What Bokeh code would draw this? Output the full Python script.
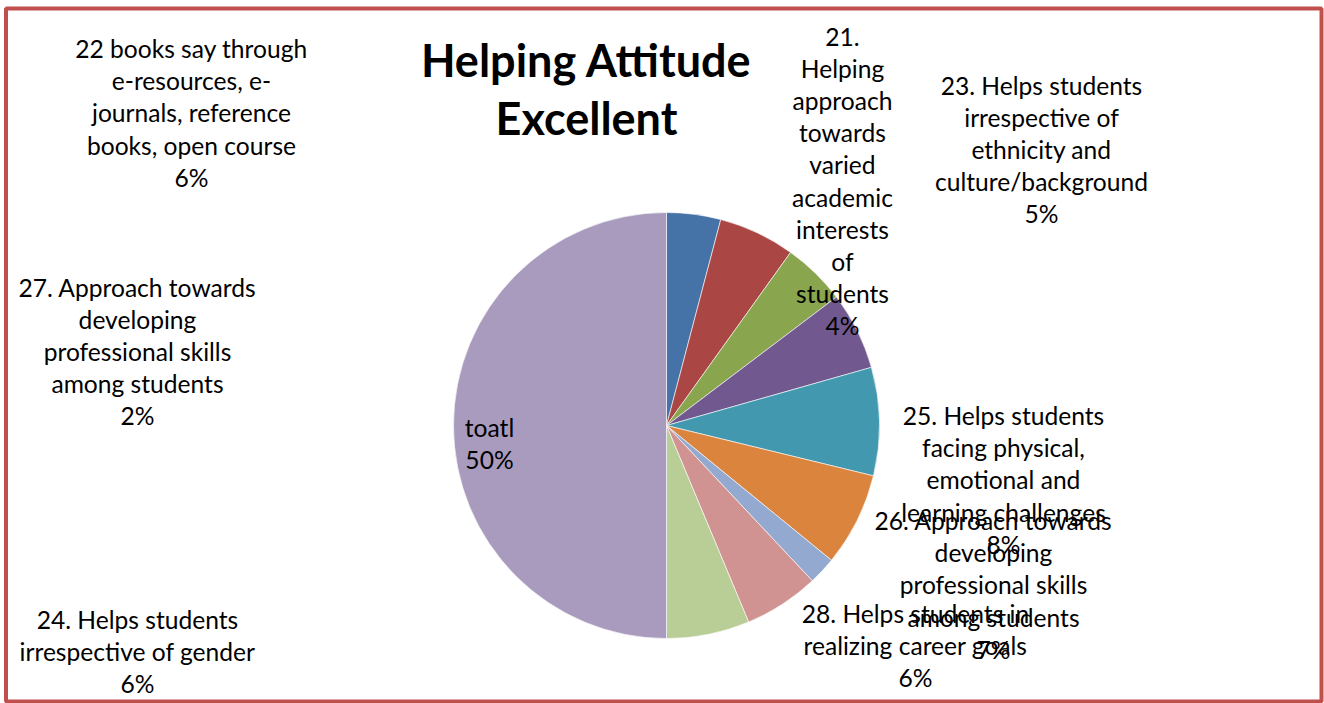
import math
from bokeh.plotting import figure
from bokeh.models import Range1d, ColumnDataSource
from bokeh.core.properties import value
from bokeh.embed import file_html
from bokeh.resources import INLINE

# ---- data (clockwise from 12 o'clock) ----
categories = [
    "21.\nHelping\napproach\ntowards\nvaried\nacademic\ninterests\nof\nstudents",
    "22 books say through\ne-resources, e-\njournals, reference\nbooks, open course",
    "23. Helps students\nirrespective of\nethnicity and\nculture/background",
    "24. Helps students\nirrespective of gender",
    "25. Helps students\nfacing physical,\nemotional and\nlearning challenges",
    "26. Approach towards\ndeveloping\nprofessional skills\namong students",
    "27. Approach towards\ndeveloping\nprofessional skills\namong students",
    "28. Helps students in\nrealizing career goals",
    "",
    "toatl",
]
values = [4.1, 5.8, 4.8, 5.9, 8.2, 7.1, 2.1, 5.7, 6.3, 50.0]
colors = ["#4572A7", "#AA4643", "#89A54E", "#71588F", "#4198AF",
          "#DB843D", "#93A9CF", "#D19392", "#B9CD96", "#A99BBD"]
title_lines = "Helping Attitude\nExcellent"

# ---- layout (picture pixel coordinates of label block centres) ----
label_pos = [(842, 180.5), (191, 112.5), (1041, 149), (137, 651), (1003, 479.5),
             (993, 584.5), (137, 351), (915, 645), None, (489, 443)]
H = 703
cx, cy, R = 666, 425, 213

W_FIG, H_FIG = 1324, 703
p = figure(width=W_FIG, height=H_FIG, output_backend="svg", toolbar_location=None,
           x_range=Range1d(0, W_FIG), y_range=Range1d(H - H_FIG, H),
           min_border=0)
p.axis.visible = False
p.grid.visible = False
p.outline_line_color = None
p.background_fill_color = "white"

# frame
p.quad(left=[5.5], right=[1321], bottom=[H - 701], top=[H - 8],
       fill_color=None, line_color="#C0504D", line_width=4)

total = sum(values)
starts, ends = [], []
acc = 0.0
for v in values:
    starts.append(math.pi / 2 - 2 * math.pi * acc / total)
    acc += v
    ends.append(math.pi / 2 - 2 * math.pi * acc / total)

src = ColumnDataSource(dict(start=starts, end=ends, color=colors))
p.wedge(x=cx, y=H - cy, radius=R, start_angle="start", end_angle="end",
        direction="clock", fill_color="color", line_color="white", line_width=0.6,
        source=src)

lx, ly, lt = [], [], []
for name, v, pos in zip(categories, values, label_pos):
    if pos is None or not name:
        continue
    lx.append(pos[0])
    ly.append(H - pos[1])
    lt.append(f"{name}\n{round(v)}%")

p.text(x=lx, y=ly, text=lt, text_align="center", text_baseline="middle",
       text_font=value("Lato"), text_font_size="24.6px", text_line_height=1.108,
       text_color="black")

p.text(x=[586], y=[H - 88.5], text=[title_lines], text_align="center",
       text_baseline="middle", text_font=value("Lato"), text_font_size="45px",
       text_font_style="bold", text_line_height=1.076, text_color="black")

open("out.html", "w").write(file_html(p, INLINE))
